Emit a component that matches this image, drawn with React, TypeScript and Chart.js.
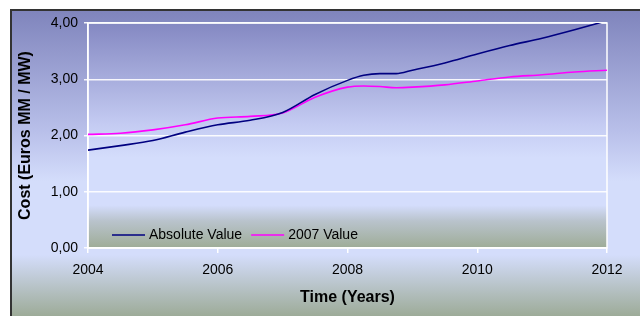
import React, { useEffect, useRef } from "react";
import { Chart, registerables } from "chart.js";

Chart.register(...registerables);

const years = [2004, 2004.5, 2005, 2005.5, 2006, 2006.5, 2007, 2007.5, 2008, 2008.25, 2008.5, 2008.75, 2009, 2009.5, 2010, 2010.5, 2011, 2011.5, 2012];
const absoluteValue = [1.74, 1.82, 1.91, 2.06, 2.19, 2.27, 2.41, 2.73, 2.98, 3.07, 3.1, 3.1, 3.16, 3.29, 3.45, 3.6, 3.73, 3.88, 4.04];
const value2007 = [2.02, 2.04, 2.1, 2.19, 2.31, 2.34, 2.4, 2.68, 2.86, 2.88, 2.87, 2.85, 2.86, 2.9, 2.97, 3.04, 3.08, 3.13, 3.16];
const seriesLabels = ["Absolute Value", "2007 Value"];
const xTitle = "Time (Years)";
const yTitle = "Cost (Euros MM / MW)";

const FONT = '"Liberation Sans", Arial, Helvetica, sans-serif';

const backgroundPlugin = {
  id: "bgPlugin",
  beforeDraw(chart: any) {
    const { ctx, width, height, chartArea } = chart;
    ctx.save();
    ctx.fillStyle = "#ffffff";
    ctx.fillRect(0, 0, width, height);
    const ox = 11, oy = 10;
    const g = ctx.createLinearGradient(0, oy, 0, height);
    g.addColorStop(0, "#7f84bc");
    g.addColorStop(0.4, "#b9c0ea");
    g.addColorStop(0.56, "#d4ddfb");
    g.addColorStop(0.8, "#d4ddfb");
    g.addColorStop(1, "#9dab98");
    ctx.fillStyle = g;
    ctx.fillRect(ox, oy, width - ox, height - oy);
    ctx.strokeStyle = "#333333";
    ctx.lineWidth = 2;
    ctx.beginPath();
    ctx.moveTo(ox, height);
    ctx.lineTo(ox, oy);
    ctx.lineTo(width, oy);
    ctx.stroke();
    const a = chartArea;
    const pg = ctx.createLinearGradient(0, a.top, 0, a.bottom);
    pg.addColorStop(0, "#8488c2");
    pg.addColorStop(0.45, "#c4cbf2");
    pg.addColorStop(0.6, "#d4ddfc");
    pg.addColorStop(0.81, "#d4ddfc");
    pg.addColorStop(0.88, "#b9c3cc");
    pg.addColorStop(1, "#9eac97");
    ctx.fillStyle = pg;
    ctx.fillRect(a.left, a.top, a.right - a.left, a.bottom - a.top);
    ctx.restore();
  },
  beforeDatasetsDraw(chart: any) {
    const { ctx, chartArea: a } = chart;
    ctx.save();
    ctx.strokeStyle = "#ffffff";
    ctx.lineWidth = 1.5;
    ctx.strokeRect(a.left, a.top, a.right - a.left, a.bottom - a.top);
    ctx.restore();
  },
};

const legendPlugin = {
  id: "insideLegend",
  afterDatasetsDraw(chart: any) {
    const { ctx, chartArea: a } = chart;
    ctx.save();
    ctx.font = "14px " + FONT;
    ctx.textBaseline = "middle";
    ctx.textAlign = "left";
    let x = a.left + 24;
    const y = a.bottom - 13;
    chart.data.datasets.forEach((ds: any) => {
      ctx.strokeStyle = ds.borderColor;
      ctx.lineWidth = 1.5;
      ctx.beginPath();
      ctx.moveTo(x, y);
      ctx.lineTo(x + 33, y);
      ctx.stroke();
      x += 37;
      ctx.fillStyle = "#000000";
      ctx.fillText(ds.label, x, y);
      x += ctx.measureText(ds.label).width + 9;
    });
    ctx.restore();
  },
};

export default function App() {
  const ref = useRef<HTMLCanvasElement | null>(null);
  useEffect(() => {
    document.body.style.margin = "0";
    if (!ref.current) return;
    const toPts = (vals: number[]) => years.map((x, i) => ({ x, y: vals[i] }));
    const chart = new Chart(ref.current, {
      type: "line",
      data: {
        datasets: [
          {
            label: seriesLabels[0],
            data: toPts(absoluteValue),
            borderColor: "#000080",
            borderWidth: 1.6,
            pointRadius: 0,
            cubicInterpolationMode: "monotone",
            clip: 0,
          },
          {
            label: seriesLabels[1],
            data: toPts(value2007),
            borderColor: "#ff00ff",
            borderWidth: 1.6,
            pointRadius: 0,
            cubicInterpolationMode: "monotone",
            clip: 0,
          },
        ],
      },
      options: {
        animation: false,
        responsive: true,
        maintainAspectRatio: false,
        layout: { padding: { top: 23, right: 33, left: 0, bottom: 0 } },
        plugins: {
          legend: { display: false },
          tooltip: { enabled: false },
        },
        scales: {
          x: {
            type: "linear",
            min: 2004,
            max: 2012,
            afterFit: (s: any) => {
              s.height = 68;
            },
            ticks: {
              stepSize: 2,
              color: "#000000",
              font: { family: FONT, size: 14 },
              padding: 9,
              maxRotation: 0,
              callback: (v: any) => String(v),
            },
            grid: {
              drawOnChartArea: false,
              color: "#ffffff",
              tickLength: 5,
              lineWidth: 1.5,
            },
            border: { color: "#ffffff", width: 1.5 },
            title: {
              display: true,
              text: xTitle,
              color: "#000000",
              font: { family: FONT, size: 16, weight: "bold" },
              padding: { top: 0, bottom: 8.4 },
            },
          },
          y: {
            min: 0,
            max: 4,
            afterFit: (s: any) => {
              s.width = 88;
            },
            ticks: {
              stepSize: 1,
              color: "#000000",
              font: { family: FONT, size: 14 },
              padding: 6,
              callback: (v: any) => Number(v).toFixed(2).replace(".", ","),
            },
            grid: {
              color: "rgba(255,255,255,0.9)",
              lineWidth: 1.5,
              tickLength: 4,
            },
            border: { color: "#ffffff", width: 1.5 },
            title: {
              display: true,
              text: yTitle,
              color: "#000000",
              font: { family: FONT, size: 16, weight: "bold" },
              padding: { top: 16.4, bottom: 0 },
            },
          },
        },
      },
      plugins: [backgroundPlugin, legendPlugin],
    } as any);
    return () => chart.destroy();
  }, []);
  return (
    <div style={{ position: "fixed", left: 0, top: 0, width: 640, height: 316 }}>
      <canvas ref={ref} />
    </div>
  );
}
